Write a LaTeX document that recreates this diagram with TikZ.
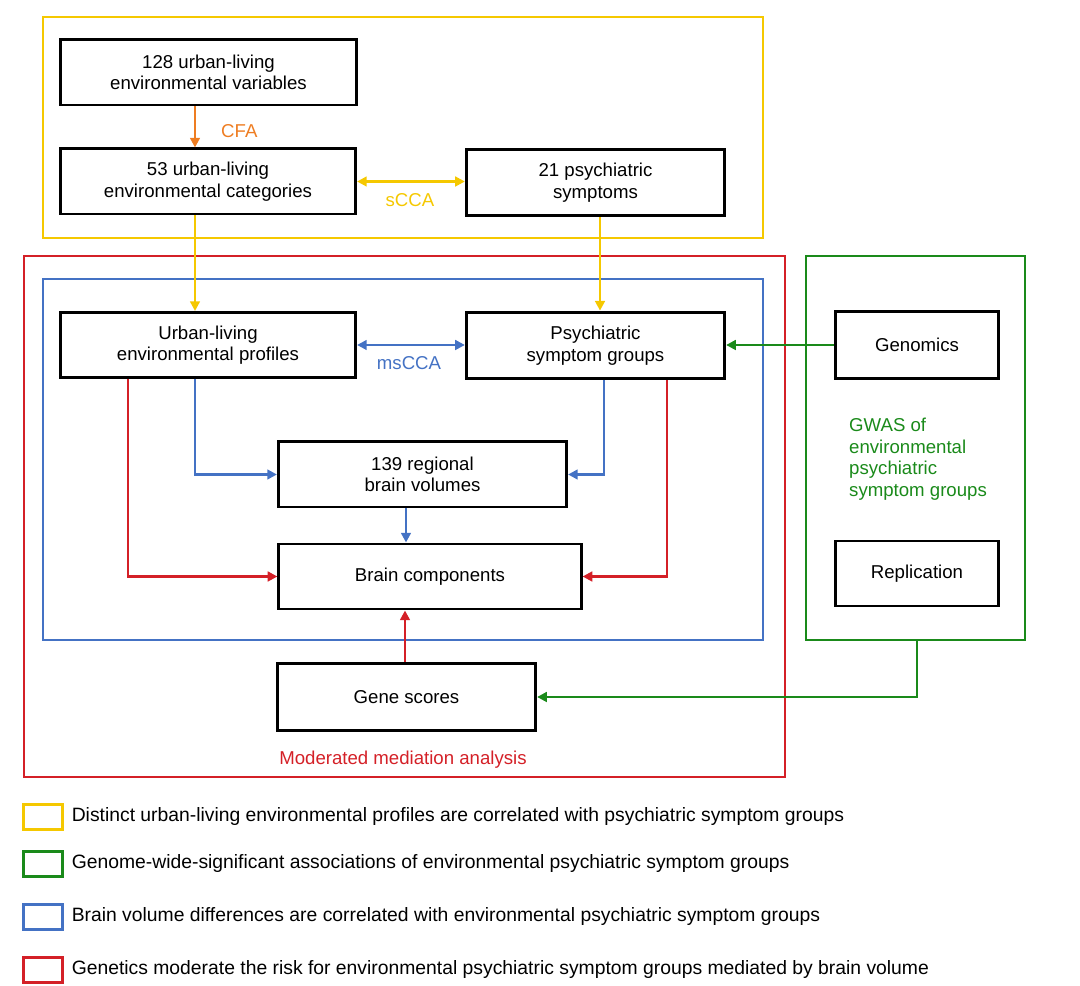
\documentclass[tikz,border=0pt]{standalone}
\usepackage{fontspec}
\setmainfont{Liberation Sans}
\usetikzlibrary{arrows.meta, positioning, calc}

\definecolor{cyel}{HTML}{F5C800}
\definecolor{corg}{HTML}{EE7D22}
\definecolor{cred}{HTML}{D42027}
\definecolor{cblu}{HTML}{4472C4}
\definecolor{cgrn}{HTML}{1A8A1A}

\tikzset{
  blk/.style={draw, line width=1.7pt, align=center, inner sep=2pt, font=\fontsize{10.6}{12.2}\selectfont},
  frm/.style={line width=1.7pt},
  arr/.style={line width=1.5pt, -{Triangle[length=5.5pt, width=5.5pt]}},
  darr/.style={line width=1.7pt, {Triangle[length=5.5pt, width=5.5pt]}-{Triangle[length=5.5pt, width=5.5pt]}},
  lbl/.style={font=\fontsize{10.6}{12.3}\selectfont},
  legtxt/.style={font=\fontsize{11}{13}\selectfont},
  legbox/.style={draw, line width=1.7pt, minimum width=22pt, minimum height=14pt, inner sep=0pt},
}

\begin{document}
\begin{tikzpicture}[x=0.02cm, y=-0.02cm]
  \useasboundingbox (0,0) rectangle (1080,986);

  % frames
  \draw[frm, cyel] (43,17) rectangle (763,238);
  \draw[frm, cred] (24,256) rectangle (785,777);
  \draw[frm, cblu] (43,279) rectangle (763,640);
  \draw[frm, cgrn] (806,256) rectangle (1025,640);
  \coordinate (gwasbot) at (917,640);

  % boxes
  \node[blk, minimum width=168pt, minimum height=37pt] (vars) at (208.5,72.5) {128 urban-living\\environmental variables};
  \node[blk, minimum width=168pt, minimum height=37pt] (cats) at (208,181.5) {53 urban-living\\environmental categories};
  \node[blk, minimum width=147pt, minimum height=38pt] (symp) at (595.5,182.5) {21 psychiatric\\symptoms};
  \node[blk, minimum width=168pt, minimum height=37pt] (prof) at (208,345) {Urban-living\\environmental profiles};
  \node[blk, minimum width=147pt, minimum height=38pt] (grps) at (595.5,345.5) {Psychiatric\\symptom groups};
  \node[blk, minimum width=164pt, minimum height=37pt] (vols) at (422.5,474.5) {139 regional\\brain volumes};
  \node[blk, minimum width=172pt, minimum height=37pt] (comp) at (430,576.5) {Brain components};
  \node[blk, minimum width=147pt, minimum height=38pt] (gene) at (406.5,697) {Gene scores};
  \node[blk, minimum width=93pt, minimum height=38pt] (gnms) at (917,345) {Genomics};
  \node[blk, minimum width=93pt, minimum height=37pt] (repl) at (917,573.5) {Replication};

  % labels
  \node[lbl, text=corg, anchor=west] (cfa) at (215,131) {CFA};
  \node[lbl, text=cyel] (scca) at (410,200) {sCCA};
  \node[lbl, text=cblu] (mscca) at (409,363) {msCCA};
  \node[lbl, text=cred] (mma) at (403,760) {Moderated mediation analysis};
  \node[lbl, text=cgrn, align=left, anchor=north west] (gwas) at (843,412) {GWAS of\\environmental\\psychiatric\\symptom groups};

  % connectors
  \draw[arr, corg] (vars.south -| 195,0) -- (cats.north -| 195,0);
  \draw[darr, cyel] (cats.east) -- (symp.west |- cats.east);
  \draw[arr, cyel] (cats.south -| 195,0) -- (prof.north -| 195,0);
  \draw[arr, cyel] (symp.south -| 600,0) -- (grps.north -| 600,0);
  \draw[darr, cblu] (prof.east) -- (grps.west |- prof.east);
  \draw[arr, cblu] (prof.south -| 195,0) |- (vols.west);
  \draw[arr, cblu] (grps.south -| 604,0) |- (vols.east);
  \draw[arr, cblu] (vols.south -| 406,0) -- (comp.north -| 406,0);
  \draw[arr, cred] (prof.south -| 128,0) |- (comp.west);
  \draw[arr, cred] (grps.south -| 667,0) |- (comp.east);
  \draw[arr, cred] (gene.north -| 405,0) -- (comp.south -| 405,0);
  \draw[arr, cgrn] (gnms.west) -- (grps.east |- gnms.west);
  \draw[arr, cgrn] (gwasbot) |- (gene.east);

  % legend
  \node[legbox, draw=cyel] (leg1) at (43,817) {};
  \node[legbox, draw=cgrn] (leg2) at (43,864) {};
  \node[legbox, draw=cblu] (leg3) at (43,917) {};
  \node[legbox, draw=cred] (leg4) at (43,970) {};
  \node[legtxt, anchor=west, right=1pt of leg1] (txt1) {Distinct urban-living environmental profiles are correlated with psychiatric symptom groups};
  \node[legtxt, anchor=west, right=1pt of leg2] (txt2) {Genome-wide-significant associations of environmental psychiatric symptom groups};
  \node[legtxt, anchor=west, right=1pt of leg3] (txt3) {Brain volume differences are correlated with environmental psychiatric symptom groups};
  \node[legtxt, anchor=west, right=1pt of leg4] (txt4) {Genetics moderate the risk for environmental psychiatric symptom groups mediated by brain volume};
\end{tikzpicture}
\end{document}
